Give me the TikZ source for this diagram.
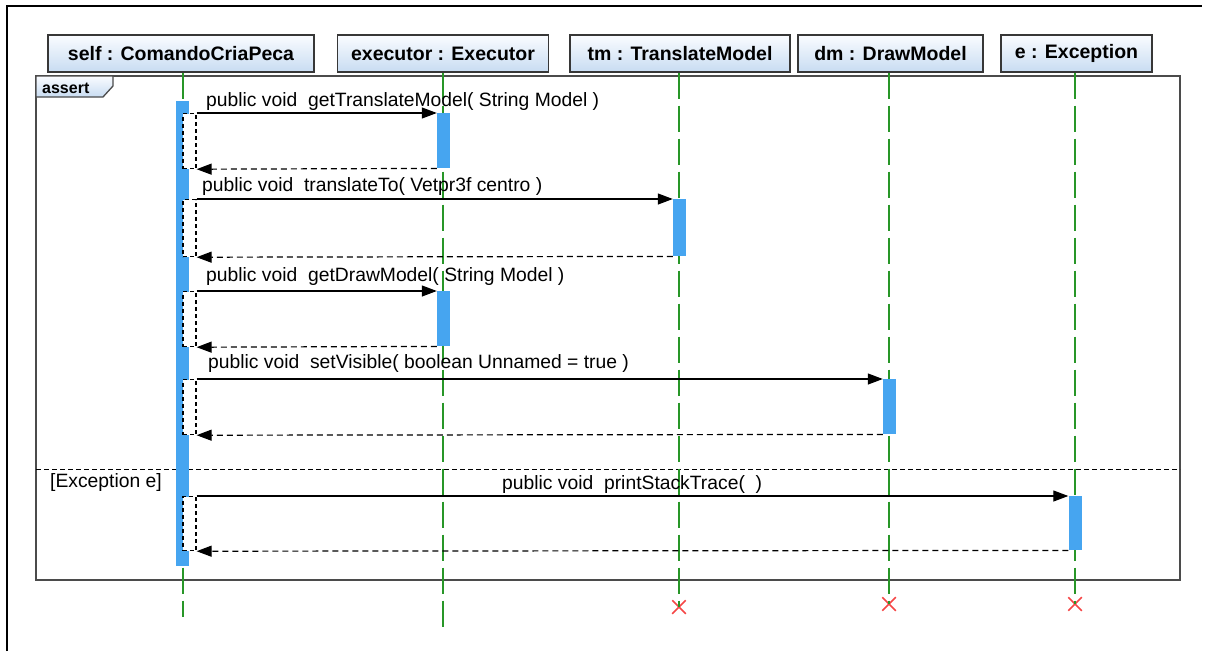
\documentclass[tikz,border=0pt]{standalone}
\usepackage{fontspec}
\setmainfont{Liberation Sans}
\usetikzlibrary{arrows.meta,shapes.misc}
\definecolor{hdrtop}{RGB}{250,252,255}
\definecolor{hdrbot}{RGB}{200,220,242}
\definecolor{hdrline}{RGB}{55,55,55}
\definecolor{barblue}{RGB}{70,165,240}
\definecolor{lifegreen}{RGB}{40,150,40}
\definecolor{framegray}{RGB}{75,75,75}
\definecolor{killred}{RGB}{245,70,70}
\tikzset{
  hdr/.style={draw=hdrline, line width=1.3pt, top color=hdrtop, bottom color=hdrbot,
    minimum height=37pt, inner sep=0pt, font=\fontsize{19.5}{21}\selectfont\bfseries},
  lifeline/.style={draw=lifegreen, line width=1.4pt, dash pattern=on 26pt off 7pt},
  actbar/.style={fill=barblue, draw=none, minimum width=13pt, inner sep=0pt, anchor=north},
  nested/.style={fill=white, draw=black, line width=1.2pt, dash pattern=on 4pt off 3pt,
    minimum width=13pt, inner sep=0pt, anchor=north},
  callmsg/.style={draw=black, line width=1.2pt, -{Triangle[length=15pt,width=11pt]}},
  retmsg/.style={draw=black, line width=1.2pt, dash pattern=on 6pt off 4pt,
    -{Triangle[length=15pt,width=11pt]}},
  msglabel/.style={anchor=base west, inner sep=0pt, font=\fontsize{19.3}{21}\selectfont},
  killmark/.style={cross out, draw=killred, line width=1.5pt, minimum size=12pt, inner sep=0pt},
}
\begin{document}
\begin{tikzpicture}[x=1pt,y=-1pt]
\useasboundingbox (0,0) rectangle (1207,651);
% page frame (top and left edges)
\draw[black, line width=2pt] (6.5,651) -- (6.5,5.5) -- (1202,5.5);

% combined fragment "assert"
\draw[framegray, line width=1.6pt] (36,76) rectangle (1180,580);
\draw[framegray, line width=1.3pt, top color=hdrtop, bottom color=hdrbot]
  (36,76) -- (113,76) -- (113,86) -- (103,97) -- (36,97) -- cycle;
\node[anchor=base west, inner sep=0pt, font=\fontsize{16}{17}\selectfont\bfseries]
  (tag) at (42,93) {assert};
\draw[black, line width=1pt, dash pattern=on 5pt off 3pt] (36,469) -- (1180,469);
\node[msglabel] (guard) at (50,487) {[Exception e]};

% lifeline heads
\node[hdr, minimum width=266pt] (self) at (181,53.5) {self : ComandoCriaPeca};
\node[hdr, minimum width=211pt] (exec) at (443,53.5) {executor : Executor};
\node[hdr, minimum width=220pt] (tm) at (680,53.5) {tm : TranslateModel};
\node[hdr, minimum width=185pt] (dm) at (890.5,53.5) {dm : DrawModel};
\node[hdr, minimum width=151pt] (ex) at (1076.5,53.5) {e : Exception};

% lifeline ends
\coordinate (selfend) at (183,617);
\coordinate (execend) at (443,628);
\node[killmark] (tmkill) at (679,607) {};
\node[killmark] (dmkill) at (889,604) {};
\node[killmark] (exkill) at (1075,604) {};

% lifelines
\draw[lifeline] (self.south -| selfend) -- (selfend);
\draw[lifeline] (exec.south -| execend) -- (execend);
\draw[lifeline] (tmkill |- tm.south) -- (tmkill.center);
\draw[lifeline] (dmkill |- dm.south) -- (dmkill.center);
\draw[lifeline] (exkill |- ex.south) -- (exkill.center);

% activation of self
\node[actbar, minimum height=465pt] (selfbar) at (182.5,101) {};

% nested activations on self
\node[nested, minimum height=55pt] (n1) at (189.5,113) {};
\node[nested, minimum height=57pt] (n2) at (189.5,199) {};
\node[nested, minimum height=55pt] (n3) at (189.5,291) {};
\node[nested, minimum height=55pt] (n4) at (189.5,379) {};
\node[nested, minimum height=54pt] (n5) at (189.5,496) {};

% activations of the callees
\node[actbar, minimum height=55pt] (a1) at (443.5,113) {};
\node[actbar, minimum height=57pt] (a2) at (679.5,199) {};
\node[actbar, minimum height=55pt] (a3) at (443.5,291) {};
\node[actbar, minimum height=55pt] (a4) at (889.5,379) {};
\node[actbar, minimum height=54pt] (a5) at (1075,496) {};

% messages
\draw[callmsg] (n1.north east) -- (a1.north west);
\draw[retmsg] (a1.south west) -- (n1.south east);
\draw[callmsg] (n2.north east) -- (a2.north west);
\draw[retmsg] (a2.south west) -- (n2.south east);
\draw[callmsg] (n3.north east) -- (a3.north west);
\draw[retmsg] (a3.south west) -- (n3.south east);
\draw[callmsg] (n4.north east) -- (a4.north west);
\draw[retmsg] (a4.south west) -- (n4.south east);
\draw[callmsg] (n5.north east) -- (a5.north west);
\draw[retmsg] (a5.south west) -- (n5.south east);

% message labels
\node[msglabel] (m1) at (206,106) {public void\ \ getTranslateModel( String Model )};
\node[msglabel] (m2) at (202,191) {public void\ \ translateTo( Vetpr3f centro )};
\node[msglabel] (m3) at (206,281) {public void\ \ getDrawModel( String Model )};
\node[msglabel] (m4) at (208,368) {public void\ \ setVisible( boolean Unnamed = true )};
\node[msglabel] (m5) at (502,489) {public void\ \ printStackTrace(\ \ )};
\end{tikzpicture}
\end{document}
